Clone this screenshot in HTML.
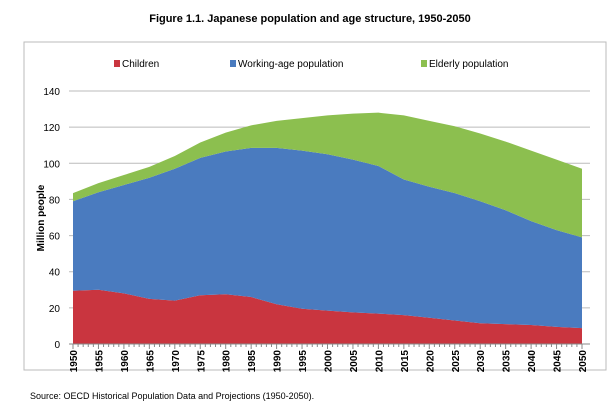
<!DOCTYPE html>
<html><head><meta charset="utf-8"><style>
body{margin:0;background:#fff;width:616px;height:414px;overflow:hidden;font-family:"Liberation Sans",sans-serif}
</style></head><body>
<svg width="616" height="414" id="svg">
<text x="310" y="22" text-anchor="middle" font-size="11" font-weight="bold">Figure 1.1. Japanese population and age structure, 1950-2050</text>
<rect x="24" y="42" width="582" height="328" fill="none" stroke="#bbb"/>
<g font-size="10">
<rect x="114" y="60" width="6" height="7" fill="#c9353f"/>
<text x="122" y="67">Children</text>
<rect x="230" y="60" width="6" height="7" fill="#4a7bbf"/>
<text x="238" y="67">Working-age population</text>
<rect x="421" y="60" width="6" height="7" fill="#8cbf4f"/>
<text x="429" y="67">Elderly population</text>
</g>
<text transform="translate(44,218) rotate(-90)" text-anchor="middle" font-size="10" font-weight="bold">Million people</text>
<g id="grid"></g><g id="areas"></g><g id="axes"></g>
<text x="30" y="399" font-size="9">Source: OECD Historical Population Data and Projections (1950-2050).</text>
</svg>
<script>
const years=[1950,1955,1960,1965,1970,1975,1980,1985,1990,1995,2000,2005,2010,2015,2020,2025,2030,2035,2040,2045,2050];
const children=[29.5,30,28,25,24,27,27.5,26,22,19.5,18.5,17.5,16.8,16,14.5,13,11.5,11,10.5,9.5,8.8];
const working=[49.5,54,60,67,73,76,79,82.5,86.5,87.5,86.5,84.5,81.7,75,72.5,70.5,67.5,63,57.5,53.5,50.2];
const elderly=[4.5,5,5.5,6,7,8.5,10.5,12.5,15,18,21.5,25.5,29.5,35.5,36.5,37,37.5,38,39,39,38];
const yTicks=[0,20,40,60,80,100,120,140];
const NS="http://www.w3.org/2000/svg";
const X=y=>73+(y-1950)/100*509, Y=v=>344-v/140*253;
function mk(t,a,p){const e=document.createElementNS(NS,t);for(const k in a)e.setAttribute(k,a[k]);p.appendChild(e);return e;}
const grid=document.getElementById('grid'),areas=document.getElementById('areas'),axes=document.getElementById('axes');
yTicks.forEach(t=>{
 const l=mk('line',{x1:69,x2:590,y1:Y(t),y2:Y(t),stroke:t?'#bbb':'#888'},grid);
 
 
 const tx=mk('text',{x:60,y:Y(t)+4,'text-anchor':'end','font-size':10},axes);tx.textContent=t;
 
 
});
const series=[children,working,elderly],cols=['#c9353f','#4a7bbf','#8cbf4f'],names=['area-children','area-working-age','area-elderly'];
let base=years.map(()=>0);
series.forEach((s,i)=>{
 const top=base.map((b,j)=>b+s[j]);
 let d='M'+years.map((y,j)=>X(y)+','+Y(top[j])).join('L');
 for(let j=years.length-1;j>=0;j--)d+='L'+X(years[j])+','+Y(base[j]);
 const p=mk('path',{d:d+'Z',fill:cols[i]},areas);
 
 
 base=top;
});
mk('line',{x1:73,x2:582,y1:344,y2:344,stroke:'#888'},axes);
for(let y=1950;y<=2050;y++){mk('line',{x1:X(y),x2:X(y),y1:344,y2:y%5?347:349,stroke:'#888'},axes);}
years.forEach(y=>{
 const t=mk('text',{transform:`translate(${X(y)+4},350) rotate(-90)`,'text-anchor':'end','font-size':10,'font-weight':'bold'},axes);
 t.textContent=y;
 
 
});
</script>
</body></html>
